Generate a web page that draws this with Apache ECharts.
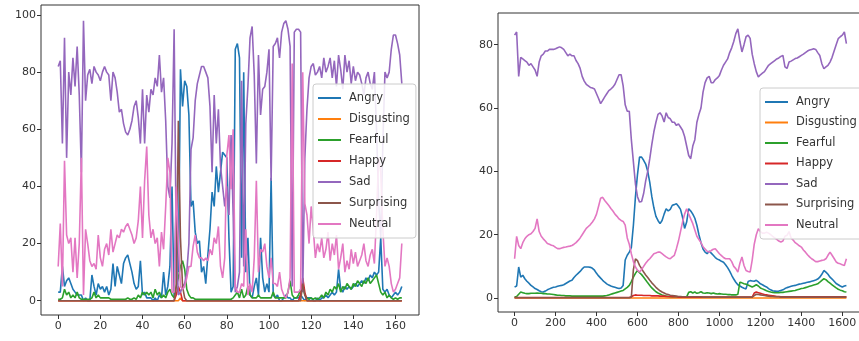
<!DOCTYPE html>
<html>
<head>
<meta charset="utf-8">
<script src="https://cdn.jsdelivr.net/npm/echarts@6/dist/echarts.min.js"></script>
<style>
  html, body { margin: 0; padding: 0; background: #fff; }
  #chart { width: 859px; height: 341px; }
</style>
</head>
<body>
<div id="chart"></div>
<script>
const emotions = ['Angry', 'Disgusting', 'Fearful', 'Happy', 'Sad', 'Surprising', 'Neutral']
const colors = ['#1f77b4', '#ff7f0e', '#2ca02c', '#d62728', '#9467bd', '#8c564b', '#e377c2']

const leftXTicks = [0, 20, 40, 60, 80, 100, 120, 140, 160]
const leftYTicks = [0, 20, 40, 60, 80, 100]
const rightXTicks = [0, 200, 400, 600, 800, 1000, 1200, 1400, 1600]
const rightYTicks = [0, 20, 40, 60, 80]
// right chart values are sampled every 10 frames
const rightStep = 10

// left chart: one value per frame, 0..163
const leftAngry = [
  3, 3, 12, 5, 7, 8, 6, 4, 3, 2,
  2, 2, 0, 1, 0, 0, 9, 5, 2, 6,
  4, 5, 3, 5, 2, 4, 13, 5, 12, 9,
  6, 13, 15, 16, 13, 10, 6, 4, 5, 14,
  2, 3, 1, 1, 1, 0, 1, 0, 2, 1,
  10, 2, 5, 12, 40, 1, 35, 10, 81, 68,
  77, 75, 65, 33, 35, 24, 20, 21, 10, 12,
  6, 16, 25, 38, 33, 47, 38, 45, 52, 51,
  50, 22, 3, 5, 88, 90, 85, 15, 80, 10,
  22, 2, 1, 5, 8, 2, 22, 8, 3, 6,
  3, 43, 2, 1, 2, 0, 0, 1, 2, 1,
  1, 0, 1, 1, 1, 2, 1, 0, 1, 1,
  1, 0, 0, 1, 0, 1, 1, 2, 1, 2,
  3, 2, 3, 11, 4, 3, 5, 4, 5, 4,
  5, 6, 5, 6, 7, 6, 8, 7, 9, 8,
  10, 9, 10, 22, 4, 3, 4, 2, 1, 2,
  3, 2, 3, 5
]
const leftDisgusting = [
  0, 0, 0, 0, 0, 0, 0, 0, 0, 0,
  0, 0, 0, 0, 0, 0, 0, 0, 0, 0,
  0, 0, 0, 0, 0, 0, 0, 0, 0, 0,
  0, 0, 0, 0, 0, 0, 0, 0, 0, 0,
  0, 0, 0, 0, 0, 0, 0, 0, 0, 0,
  0, 0, 0, 0, 0, 0, 0, 0, 1, 0,
  0, 0, 0, 0, 0, 0, 0, 0, 0, 0,
  0, 0, 0, 0, 0, 0, 0, 0, 0, 0,
  0, 0, 0, 0, 0, 0, 0, 0, 0, 0,
  0, 0, 0, 0, 0, 0, 0, 0, 0, 0,
  0, 0, 0, 0, 0, 0, 0, 0, 0, 0,
  0, 0, 0, 0, 0, 0, 0, 0, 0, 0,
  0, 0, 0, 0, 0, 0, 0, 0, 0, 0,
  0, 0, 0, 0, 0, 0, 0, 0, 0, 0,
  0, 0, 0, 0, 0, 0, 0, 0, 0, 0,
  0, 0, 0, 0, 0, 0, 0, 0, 0, 0,
  0, 0, 0, 0
]
const leftFearful = [
  0.5, 0.5, 1, 4, 2, 3, 1, 2, 1, 3,
  1, 0.5, 0.5, 0.5, 0.5, 0.5, 1, 3, 1, 2,
  1, 1, 1, 1, 1, 0.5, 0.5, 0.5, 0.5, 0.5,
  0.5, 0.5, 0.5, 1, 0.5, 0.5, 1, 0.5, 2, 1,
  3, 2, 3, 2, 3, 1, 4, 2, 3, 1,
  2, 1, 3, 4, 2, 1, 5, 8, 12, 14,
  11, 4, 2, 1, 1, 0.5, 0.5, 0.5, 0.5, 0.5,
  0.5, 0.5, 0.5, 0.5, 0.5, 0.5, 0.5, 0.5, 0.5, 0.5,
  0.5, 0.5, 0.5, 1, 2, 3, 1, 4, 1, 2,
  5, 2, 1, 1, 1, 2, 1, 1, 1, 1,
  1, 1, 3, 1, 1, 1, 1, 1, 1, 3,
  7, 2, 1, 1, 2, 4, 5, 2, 1, 0.5,
  1, 0.5, 1, 0.5, 1, 2, 1, 3, 2, 4,
  3, 5, 4, 6, 3, 5, 4, 6, 5, 4,
  6, 5, 7, 6, 5, 7, 6, 8, 6, 7,
  8, 9, 6, 3, 2, 3, 1, 2, 1, 0.5,
  1, 0.5, 1, 1
]
const leftHappy = [
  0, 0, 0, 0, 0, 0, 0, 0, 0, 0,
  0, 0, 0, 0, 0, 0, 0, 0, 0, 0,
  0, 0, 0, 0, 0, 0, 0, 0, 0, 0,
  0, 0, 0, 0, 0, 0, 0, 0, 0, 0,
  0, 0, 0, 0, 0, 0, 0, 0, 0, 0,
  0, 0, 0, 0, 0, 0, 2, 5, 3, 0,
  0, 0, 0, 0, 0, 0, 0, 0, 0, 0,
  0, 0, 0, 0, 0, 0, 0, 0, 0, 0,
  0, 0, 0, 0, 0, 0, 0, 0, 0, 0,
  0, 0, 0, 0, 0, 0, 0, 0, 0, 0,
  0, 0, 0, 0, 0, 0, 0, 0, 0, 0,
  0, 0, 0, 0, 0, 2, 8, 3, 0, 0,
  0, 0, 0, 0, 0, 0, 0, 0, 0, 0,
  0, 0, 0, 0, 0, 0, 0, 0, 0, 0,
  0, 0, 0, 0, 0, 0, 0, 0, 0, 0,
  0, 0, 0, 0, 0, 0, 0, 0, 0, 0,
  0, 0, 0, 0
]
const leftSad = [
  82, 84, 55, 92, 50, 80, 72, 85, 75, 89,
  72, 45, 98, 70, 79, 81, 76, 82, 80, 79,
  77, 80, 82, 80, 79, 70, 80, 78, 73, 66,
  67, 62, 59, 58, 60, 63, 68, 70, 64, 55,
  74, 55, 72, 66, 74, 72, 78, 75, 86, 73,
  78, 63, 40, 36, 55, 95, 20, 2, 3, 5,
  6, 10, 20, 53, 57, 70, 76, 79, 82, 82,
  80, 78, 68, 45, 72, 55, 67, 47, 40, 33,
  40, 30, 58, 30, 3, 5, 10, 77, 12, 62,
  75, 92, 96, 79, 48, 86, 65, 74, 75, 80,
  88, 42, 89, 90, 92, 85, 94, 97, 98, 95,
  89, 5, 94, 95, 95, 94, 3, 50, 67, 78,
  82, 83, 79, 80, 82, 78, 85, 80, 82, 85,
  78, 84, 75, 86, 81, 74, 86, 80, 84, 76,
  82, 77, 80, 79, 76, 72, 78, 80, 76, 74,
  80, 60, 35, 22, 55, 80, 78, 80, 88, 93,
  93, 90, 86, 76
]
const leftSurprising = [
  0, 0, 0, 0, 0, 0, 0, 0, 0, 0,
  0, 0, 0, 0, 0, 0, 0, 0, 0, 0,
  0, 0, 0, 0, 0, 0, 0, 0, 0, 0,
  0, 0, 0, 0, 0, 0, 0, 0, 0, 0,
  0, 0, 0, 0, 0, 0, 0, 0, 0, 0,
  0, 0, 0, 0, 0, 0, 5, 63, 22, 5,
  1, 0, 0, 0, 0, 0, 0, 0, 0, 0,
  0, 0, 0, 0, 0, 0, 0, 0, 0, 0,
  0, 0, 0, 0, 0, 0, 0, 0, 0, 0,
  0, 0, 0, 0, 0, 0, 0, 0, 0, 0,
  0, 0, 0, 0, 0, 0, 0, 0, 0, 0,
  0, 0, 0, 0, 0, 0, 6, 2, 0, 0,
  0, 0, 0, 0, 0, 0, 0, 0, 0, 0,
  0, 0, 0, 0, 0, 0, 0, 0, 0, 0,
  0, 0, 0, 0, 0, 0, 0, 0, 0, 0,
  0, 0, 0, 0, 0, 0, 0, 0, 0, 0,
  0, 0, 0, 0
]
const leftNeutral = [
  12, 27, 5, 49, 23, 20, 22, 10, 22, 8,
  20, 50, 2, 25, 20, 14, 12, 13, 11, 23,
  15, 12, 18, 20, 16, 25, 17, 20, 23, 22,
  25, 24, 26, 27, 25, 23, 20, 22, 28, 40,
  22, 42, 54, 30, 22, 25, 20, 22, 12, 24,
  18, 33, 50, 45, 3, 3, 40, 20, 5, 4,
  5, 8, 12, 12, 19, 23, 17, 15, 15, 14,
  15, 14, 18, 16, 22, 20, 26, 12, 8, 15,
  51, 58, 39, 60, 5, 3, 3, 6, 5, 25,
  2, 6, 3, 15, 42, 10, 18, 17, 20, 12,
  8, 15, 6, 6, 5, 10, 4, 2, 1, 3,
  8, 83, 3, 3, 3, 4, 80, 34, 30, 20,
  33, 25, 15, 20, 17, 22, 15, 18, 24, 14,
  20, 16, 23, 11, 15, 20, 10, 14, 11, 18,
  13, 17, 12, 14, 16, 20, 14, 12, 16, 18,
  13, 30, 50, 45, 25, 12, 15, 12, 6, 3,
  4, 6, 8, 20
]

// right chart: every 10th frame, 0..1620
const rightAngry = [
  3.5, 3.8, 9.8, 6.6, 7.2, 6.1, 5.3, 4.7, 4, 3.5,
  3, 2.7, 2.3, 2, 1.9, 2.2, 2.6, 2.9, 3.2, 3.4,
  3.5, 3.7, 3.9, 4, 4.2, 4.6, 5, 5.4, 5.6, 6.5,
  7.2, 7.8, 8.4, 9.2, 9.8, 9.8, 9.8, 9.7, 9.4, 8.8,
  7.8, 7, 6.3, 5.6, 5, 4.5, 4.1, 3.8, 3.6, 3.4,
  3.2, 3, 3.2, 4, 12, 13.5, 14.5, 16, 23, 32,
  39, 44.5, 44.5, 43.5, 42.3, 40, 36.5, 32, 28.5, 25.8,
  24.5, 23.5, 24.5, 26.5, 28.2, 27.5, 28, 29.3, 29.5, 29.8,
  29, 28, 25.5, 22, 24, 28.2, 27.5, 26.5, 25.2, 23,
  20, 17.5, 15.5, 14.5, 14, 14.8, 14.2, 13.5, 12.8, 12.3,
  12, 11.6, 11.3, 10.5, 9.6, 8.5, 7.2, 6, 5, 4.2,
  3.8, 3.4, 3.1, 2.9, 5.2, 5.5, 5.4, 5.3, 5.6, 5.1,
  4.5, 4.2, 3.8, 3.5, 3, 2.6, 2.3, 2.2, 2.1, 2.2,
  2.4, 2.6, 3, 3.3, 3.5, 3.7, 3.9, 4, 4.2, 4.4,
  4.5, 4.7, 4.8, 5, 5.1, 5.3, 5.5, 5.7, 6, 6.6,
  7.5, 8.7, 8.2, 7.5, 6.6, 6, 5.3, 4.6, 4.2, 3.8,
  3.5, 3.8, 4
]
const rightDisgusting = [
  0, 0, 0, 0, 0, 0, 0, 0, 0, 0,
  0, 0, 0, 0, 0, 0, 0, 0, 0, 0,
  0, 0, 0, 0, 0, 0, 0, 0, 0, 0,
  0, 0, 0, 0, 0, 0, 0, 0, 0, 0,
  0, 0, 0, 0, 0, 0, 0, 0, 0, 0,
  0, 0, 0, 0, 0, 0, 0, 0, 0, 0,
  0, 0, 0, 0, 0, 0, 0, 0, 0, 0,
  0, 0, 0, 0, 0, 0, 0, 0, 0, 0,
  0, 0, 0, 0, 0, 0, 0, 0, 0, 0,
  0, 0, 0, 0, 0, 0, 0, 0, 0, 0,
  0, 0, 0, 0, 0, 0, 0, 0, 0, 0,
  0, 0, 0, 0, 0, 0, 0, 0, 0, 0,
  0, 0, 0, 0, 0, 0, 0, 0, 0, 0,
  0, 0, 0, 0, 0, 0, 0, 0, 0, 0,
  0, 0, 0, 0, 0, 0, 0, 0, 0, 0,
  0, 0, 0, 0, 0, 0, 0, 0, 0, 0,
  0, 0, 0
]
const rightFearful = [
  0.3, 0.5, 1.2, 1.9, 1.7, 1.5, 1.4, 1.4, 1.5, 1.5,
  1.5, 1.6, 1.5, 1.5, 1.4, 1.4, 1.3, 1.3, 1.2, 1.1,
  1, 0.9, 0.9, 0.8, 0.8, 0.7, 0.7, 0.7, 0.6, 0.6,
  0.6, 0.6, 0.6, 0.6, 0.6, 0.6, 0.6, 0.6, 0.6, 0.6,
  0.6, 0.6, 0.6, 0.6, 0.7, 0.8, 1, 1.2, 1.4, 1.6,
  1.8, 2, 2.2, 2.4, 2.9, 3.4, 4, 5.2, 6.6, 7.8,
  8.7, 8, 7.4, 6.6, 5.7, 4.8, 4, 3.2, 2.6, 2,
  1.6, 1.3, 1, 0.8, 0.6, 0.5, 0.4, 0.4, 0.4, 0.4,
  0.4, 0.4, 0.4, 0.4, 0.4, 1.8, 2, 1.6, 1.9, 1.5,
  1.7, 2, 1.6, 1.5, 1.7, 1.6, 1.4, 1.6, 1.4, 1.3,
  1.4, 1.3, 1.2, 1.2, 1.1, 1.1, 1, 1, 1, 1.2,
  5, 4.8, 4.5, 4.4, 4.1, 3.8, 3.5, 3.8, 4.2, 3.8,
  3.2, 2.9, 2.6, 2.3, 2.1, 1.9, 1.8, 1.7, 1.7, 1.7,
  1.8, 1.8, 1.9, 2, 2.1, 2.2, 2.3, 2.4, 2.6, 2.8,
  3, 3.1, 3.3, 3.5, 3.7, 3.9, 4.1, 4.3, 4.5, 5,
  5.6, 6.1, 5.8, 5.2, 4.7, 4.2, 3.7, 3.2, 2.8, 2.5,
  2.3, 2, 1.9
]
const rightHappy = [
  0.2, 0.2, 0.2, 0.2, 0.2, 0.2, 0.2, 0.2, 0.2, 0.2,
  0.2, 0.2, 0.2, 0.2, 0.2, 0.2, 0.2, 0.2, 0.2, 0.2,
  0.2, 0.2, 0.2, 0.2, 0.2, 0.2, 0.2, 0.2, 0.2, 0.2,
  0.2, 0.2, 0.2, 0.2, 0.2, 0.2, 0.2, 0.2, 0.2, 0.2,
  0.2, 0.2, 0.2, 0.2, 0.2, 0.2, 0.2, 0.2, 0.2, 0.2,
  0.2, 0.2, 0.2, 0.2, 0.2, 0.2, 0.2, 0.4, 0.8, 1,
  0.9, 0.9, 0.9, 0.8, 0.8, 0.8, 0.8, 0.7, 0.7, 0.7,
  0.7, 0.6, 0.6, 0.6, 0.5, 0.5, 0.5, 0.4, 0.4, 0.4,
  0.3, 0.3, 0.3, 0.3, 0.3, 0.3, 0.3, 0.3, 0.3, 0.3,
  0.3, 0.3, 0.3, 0.3, 0.3, 0.3, 0.3, 0.3, 0.3, 0.3,
  0.3, 0.3, 0.3, 0.3, 0.3, 0.3, 0.3, 0.3, 0.3, 0.3,
  0.3, 0.3, 0.3, 0.3, 0.3, 0.3, 0.3, 1.6, 1.9, 1.7,
  1.5, 1.3, 1.1, 1, 0.9, 0.8, 0.7, 0.6, 0.5, 0.5,
  0.4, 0.4, 0.4, 0.4, 0.4, 0.4, 0.4, 0.4, 0.4, 0.4,
  0.4, 0.4, 0.4, 0.4, 0.4, 0.4, 0.4, 0.4, 0.4, 0.4,
  0.4, 0.4, 0.4, 0.4, 0.4, 0.4, 0.4, 0.4, 0.4, 0.4,
  0.4, 0.4, 0.4
]
const rightSad = [
  83, 84, 70, 76, 75.5, 75, 74.5, 73.5, 74, 73,
  72, 70, 74.5, 76.5, 77, 78, 78, 78.5, 78.5, 78.5,
  78.7, 79, 79.3, 79, 78.5, 77.5, 76.5, 77, 76.5, 76.5,
  75, 74, 72.5, 70, 68.5, 67.5, 67, 66.5, 66.3, 66,
  64.5, 63, 61.4, 62.4, 63.5, 64.5, 65.5, 66, 66.6, 67.5,
  69, 70.5, 70.5, 67, 61, 59, 59, 50, 43, 36,
  32, 30.3, 30.5, 33, 37, 40, 44, 48.5, 52.5, 55.5,
  58, 58.5, 57.5, 55.6, 58.5, 57, 56.6, 55.5, 55.5, 54.5,
  55, 54, 53, 51, 48, 45, 44, 48, 50, 55.5,
  58, 60, 65, 68, 69.5, 70, 68, 68, 69, 69.5,
  70.3, 72, 73.5, 74.5, 75.5, 77.5, 79, 81, 83.5, 85,
  81, 77.7, 80, 82.5, 83, 82, 77, 74, 71.5, 69.8,
  70.5, 71, 71.5, 72.5, 73.5, 74, 74.5, 75, 75.5, 75.8,
  76.3, 76.6, 73, 72.5, 74.5, 74.8, 75.2, 75.6, 75.8, 76.2,
  76.6, 77, 77.5, 78, 78.3, 78.5, 78.7, 78.5, 77.5, 76.6,
  74, 72.4, 73, 73.5, 74.5, 76, 78, 80, 81.9, 82.5,
  83, 84, 80.3
]
const rightSurprising = [
  0.1, 0.1, 0.1, 0.1, 0.1, 0.1, 0.1, 0.1, 0.1, 0.1,
  0.1, 0.1, 0.1, 0.1, 0.1, 0.1, 0.1, 0.1, 0.1, 0.1,
  0.1, 0.1, 0.1, 0.1, 0.1, 0.1, 0.1, 0.1, 0.1, 0.1,
  0.1, 0.1, 0.1, 0.1, 0.1, 0.1, 0.1, 0.1, 0.1, 0.1,
  0.1, 0.1, 0.1, 0.1, 0.1, 0.1, 0.1, 0.1, 0.1, 0.1,
  0.1, 0.1, 0.1, 0.1, 0.1, 0.1, 0.1, 0.3, 9, 12.4,
  11.8, 10.3, 9.3, 8.2, 7.3, 6.5, 5.6, 4.8, 4.1, 3.4,
  2.8, 2.3, 1.9, 1.6, 1.3, 1.1, 0.9, 0.8, 0.7, 0.6,
  0.5, 0.5, 0.4, 0.4, 0.4, 0.4, 0.4, 0.4, 0.4, 0.4,
  0.4, 0.4, 0.3, 0.3, 0.3, 0.3, 0.3, 0.3, 0.3, 0.3,
  0.3, 0.3, 0.3, 0.3, 0.3, 0.3, 0.3, 0.3, 0.3, 0.3,
  0.3, 0.3, 0.3, 0.3, 0.3, 0.3, 0.3, 0.8, 1.2, 1.1,
  1, 0.9, 0.8, 0.7, 0.6, 0.5, 0.5, 0.4, 0.4, 0.4,
  0.3, 0.3, 0.3, 0.3, 0.3, 0.3, 0.3, 0.3, 0.3, 0.3,
  0.3, 0.3, 0.3, 0.3, 0.3, 0.3, 0.3, 0.3, 0.3, 0.3,
  0.3, 0.3, 0.3, 0.3, 0.3, 0.3, 0.3, 0.3, 0.3, 0.3,
  0.3, 0.3, 0.3
]
const rightNeutral = [
  12.4, 19.5, 16.6, 15.6, 17.5, 18.7, 19.5, 20, 20.3, 21,
  22, 25, 21, 19.5, 18.7, 18, 17.2, 17, 16.7, 16.5,
  16, 15.6, 15.6, 15.8, 16, 16.1, 16.3, 16.4, 16.6, 17,
  17.5, 18.2, 19, 20, 21, 22, 22.6, 23.2, 24, 25,
  26.5, 29, 31.5, 31.8, 30.8, 30, 29.2, 28.3, 27.5, 26.5,
  25.8, 25, 24.5, 24.2, 23, 19, 17, 14, 11.5, 9.8,
  8.8, 8.2, 9, 10, 11, 11.8, 12.4, 13.2, 14, 14.2,
  14.5, 14.5, 14, 13.5, 13, 12.6, 12.4, 13, 13.5, 15.6,
  18, 21, 24, 26.5, 28.2, 26.5, 25, 23.5, 21.5, 19.5,
  18.5, 17.5, 16.2, 15.5, 14.8, 14.5, 15, 15.4, 15.6, 14.8,
  14, 13.4, 12.8, 12.4, 12.4, 12.4, 11.5, 10, 9.3, 8.2,
  11, 13, 10.3, 8.7, 8.4, 8.2, 12, 17, 20, 21.9,
  21, 20.5, 20.5, 20.8, 20.5, 20, 19.5, 19, 18.5, 18,
  17.7, 18, 19.5, 19.8, 21, 19, 18.3, 17.5, 17, 16.5,
  16.1, 15.2, 14.5, 13.7, 13, 12.4, 12, 11.5, 11.5, 11.7,
  11.9, 12, 12.4, 13.5, 14.5, 13.5, 12.5, 11.4, 11, 10.8,
  10.5, 10.3, 12.4
]

const leftValues = [leftAngry, leftDisgusting, leftFearful, leftHappy, leftSad, leftSurprising, leftNeutral]
const rightValues = [rightAngry, rightDisgusting, rightFearful, rightHappy, rightSad, rightSurprising, rightNeutral]

const font = 'DejaVu Sans'
const ink = '#333'

const makeAxis = (gridIndex, min, max, ticks, margin) => ({
  gridIndex,
  type: 'value',
  min,
  max,
  axisLine: { show: false, onZero: false },
  axisTick: { show: true, length: 4, customValues: ticks, lineStyle: { color: ink } },
  axisLabel: {
    customValues: ticks,
    fontSize: 11,
    color: ink,
    fontFamily: font,
    margin,
    formatter: (v) => String(v)
  },
  splitLine: { show: false }
})
const makeLegend = (left, top, itemGap) => ({
  data: emotions,
  orient: 'vertical',
  left,
  top,
  icon: 'rect',
  itemWidth: 23,
  itemHeight: 2,
  itemGap,
  padding: [7, 6, 7, 5],
  backgroundColor: 'rgba(255,255,255,0.85)',
  borderColor: '#cccccc',
  borderWidth: 1,
  borderRadius: 3,
  selectedMode: false,
  textStyle: { fontSize: 11.5, lineHeight: 14, color: ink, fontFamily: font, padding: [0, 0, 0, 3] }
})

const series = []
emotions.forEach((name, k) => {
  series.push({
    name,
    type: 'line',
    xAxisIndex: 0,
    yAxisIndex: 0,
    showSymbol: false,
    symbol: 'none',
    lineStyle: { width: 1.6, color: colors[k] },
    itemStyle: { color: colors[k] },
    data: leftValues[k].map((v, i) => [i, v])
  })
})
emotions.forEach((name, k) => {
  series.push({
    name,
    type: 'line',
    xAxisIndex: 1,
    yAxisIndex: 1,
    showSymbol: false,
    symbol: 'none',
    lineStyle: { width: 1.6, color: colors[k] },
    itemStyle: { color: colors[k] },
    data: rightValues[k].map((v, i) => [i * rightStep, v])
  })
})

const myChart = echarts.init(document.getElementById('chart'))
myChart.setOption({
  animation: false,
  backgroundColor: '#ffffff',
  grid: [
    { left: 41, right: 440, top: 5, bottom: 26, show: true, borderColor: ink, borderWidth: 1, outerBoundsMode: 'none' },
    { left: 498, right: -4, top: 13, bottom: 29, show: true, borderColor: ink, borderWidth: 1, outerBoundsMode: 'none' }
  ],
  xAxis: [makeAxis(0, -8.15, 171.15, leftXTicks, 6), makeAxis(1, -81, 1701, rightXTicks, 6)],
  yAxis: [makeAxis(0, -5, 103.5, leftYTicks, 5), makeAxis(1, -4.4, 90, rightYTicks, 5)],
  legend: [makeLegend(313, 84, 7), makeLegend(760, 88, 6.5)],
  series
})
window.addEventListener('resize', () => myChart.resize())
</script>
</body>
</html>
